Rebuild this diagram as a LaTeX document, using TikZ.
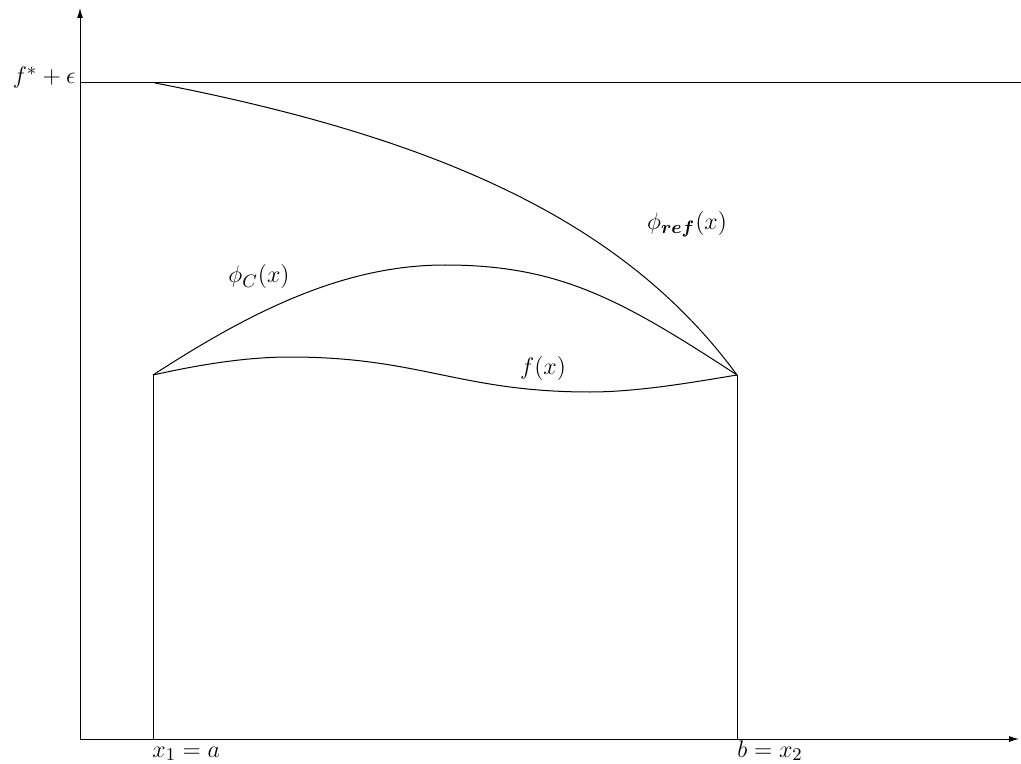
\documentclass[tikz,border=0pt]{standalone}
\usepackage{amsmath}
\usetikzlibrary{arrows.meta}
\begin{document}
\begin{tikzpicture}[x=0.5pt,y=-0.5pt,
  curve/.style={line width=0.5pt,black},
  axisline/.style={line width=0.5pt,black,-{Latex[length=5pt,width=3pt]}},
  lab/.style={font=\fontsize{13.2}{16}\selectfont,inner sep=0pt}]
\useasboundingbox (0,0) rectangle (1021,764);
% axes
\coordinate (O) at (80,739);
\coordinate (ytop) at (80,8);
\coordinate (xend) at (1019,739);
\draw[axisline] (O) -- (ytop);
\draw[axisline] (O) -- (xend);
% level line
\coordinate (lvl0) at (80,83);
\coordinate (lvl1) at (1021,83);
\draw[curve] (lvl0) -- (lvl1);
% end points
\coordinate (A) at (153,375);
\coordinate (B) at (737,375);
\coordinate (Ab) at (153,739);
\coordinate (Bb) at (737,739);
\coordinate (R0) at (155,83);
\coordinate (Cpk) at (445,265);
\coordinate (Fpk) at (290,357);
\coordinate (Fmn) at (590,392);
\draw[curve] (Ab) -- (A);
\draw[curve] (Bb) -- (B);
% f(x)
\draw[curve] (A) .. controls (198,365) and (245,357) .. (Fpk)
  .. controls (420,357) and (460,392) .. (Fmn)
  .. controls (640,392) and (700,381) .. (B);
% phi_C
\draw[curve] (A) .. controls (253,310) and (345,265) .. (Cpk)
  .. controls (560,265) and (622,300) .. (B);
% phi_ref
\draw[curve] (R0) .. controls (440,138) and (625,222) .. (B);
% labels
\node[lab,anchor=base east] (leps) at (76,84) {$f^{*}+\epsilon$};
\node[lab] (lref) at (687,224) {$\phi_{\boldsymbol{ref}}(x)$};
\node[lab] (lC) at (259,277) {$\phi_{C}(x)$};
\node[lab] (lf) at (543,368) {$f(x)$};
\node[lab,anchor=base west] (la) at (152,757) {$x_1=a$};
\node[lab,anchor=base west] (lb) at (737,757) {$b=x_2$};
\end{tikzpicture}
\end{document}
